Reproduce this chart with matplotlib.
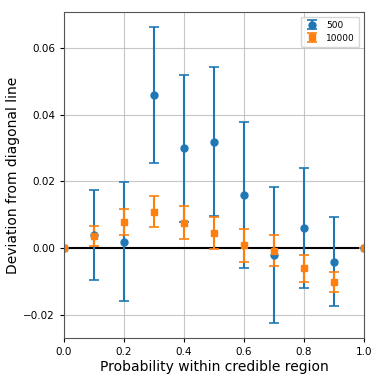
import matplotlib
matplotlib.use("Agg")
import matplotlib.pyplot as plt

x = [0.0, 0.1, 0.2, 0.3, 0.4, 0.5, 0.6, 0.7, 0.8, 0.9, 1.0]
dev_500 = [0.0, 0.0040, 0.0019, 0.0459, 0.0299, 0.0319, 0.0159, -0.0021, 0.0059, -0.0041, 0.0]
err_500 = [0.0, 0.0135, 0.0178, 0.0205, 0.0220, 0.0224, 0.0219, 0.0205, 0.0180, 0.0134, 0.0]
dev_10000 = [0.0, 0.0037, 0.0078, 0.0109, 0.0076, 0.0046, 0.0008, -0.0008, -0.0061, -0.0103, 0.0]
err_10000 = [0.0, 0.0030, 0.0040, 0.0046, 0.0049, 0.0048, 0.0049, 0.0046, 0.0040, 0.0030, 0.0]
labels = ["500", "10000"]

fig = plt.figure(figsize=(3.82, 3.82), dpi=100)
ax = fig.add_axes([64/382, 1-338/382, 300/382, 326/382])

ax.errorbar(x, dev_500, yerr=err_500, fmt='o', color='C0', capsize=3.5,
            markersize=5, elinewidth=1.5, capthick=1.2, label=labels[0])
ax.errorbar(x, dev_10000, yerr=err_10000, fmt='s', color='C1', capsize=3.5,
            markersize=5, elinewidth=1.5, capthick=1.2, label=labels[1])
ax.axhline(0, color='black', lw=1.5, zorder=1)

ax.set_xlim(0, 1)
ax.set_ylim(-0.027, 0.0708)
ax.set_xticks([0.0, 0.2, 0.4, 0.6, 0.8, 1.0])
ax.set_yticks([-0.02, 0.0, 0.02, 0.04, 0.06])
ax.grid(True, color='#b0b0b0', lw=0.8, alpha=0.7)
ax.set_axisbelow(True)
ax.tick_params(labelsize=7.5, length=3)
for s in ax.spines.values():
    s.set_color('#555555')
ax.set_xlabel("Probability within credible region", fontsize=10, labelpad=2)
ax.set_ylabel("Deviation from diagonal line", fontsize=10, labelpad=2)
ax.legend(loc='upper right', fontsize=6.5, framealpha=0.8, handlelength=1.5,
          borderpad=0.5, labelspacing=0.4)

fig.savefig("out.png", dpi=100)
